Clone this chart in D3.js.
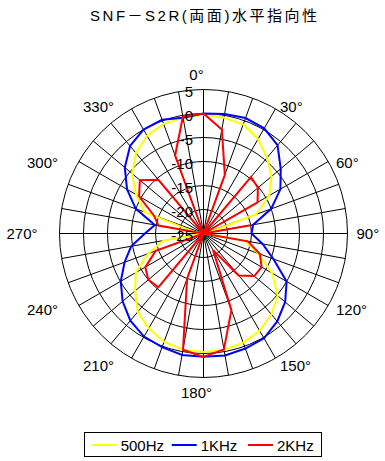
<!DOCTYPE html>
<html lang="ja">
<head>
<meta charset="utf-8">
<title>SNF-S2R 水平指向性</title>
<script src="https://cdn.jsdelivr.net/npm/d3@7"></script>
<style>
  body { margin: 0; background: #fff; }
  svg { display: block; }
  .lbl { font: 15px "Liberation Sans", Arial, sans-serif; fill: #000; }
  .title { font: 15px "Liberation Sans", "Noto Sans CJK JP", sans-serif; fill: #000; }
</style>
</head>
<body>
<div id="chart"></div>
<script>
// angles (deg, clockwise from top)
var angles = [0,10,20,30,40,50,60,70,80,90,100,110,120,130,140,150,160,170,
              180,190,200,210,220,230,240,250,260,270,280,290,300,310,320,330,340,350];

// level in dB, read at each angle
var hz500 = [-0.2,-0.5,-0.8,-2.3,-4.4,-6.5,-9.2,-13.3,-24,-25,-16.3,-12.9,-8.5,-4.8,-3,-1.6,-0.8,-0.4,
             -0.3,-0.4,-1,-2.2,-3.7,-6.4,-8.7,-12.8,-16.5,-25,-23,-11.9,-8.8,-5.6,-3.1,-1.5,-0.7,-0.5];
var khz1 = [0,0.3,0.6,0.3,-1,-4,-6.5,-10,-14.5,-15,-12.5,-9.5,-5,-2.8,-1.1,0.2,0.5,0.8,
            0.7,0.7,0.2,-0.2,-1.3,-3,-5.1,-7.5,-9.7,-12.8,-14.7,-10,-6.6,-3.6,-1.2,0,0.2,-0.5];
var khz2 = [0,-3,-12,-25,-9.6,-10.2,-12,-25,-15,-25,-15.6,-12.5,-11,-11.2,-13.6,-21,-8,-0.5,
            0.7,-0.4,-15,-25,-10.4,-10,-11,-14.4,-25,-25,-15.5,-14,-9.5,-7.7,-10.4,-25,-7.7,-0.3];

var rings = [5, 0, -5, -10, -15, -20, -25];
var angleTicks = [0,30,60,90,120,150,180,210,240,270,300,330];
var seriesNames = ["500Hz", "1KHz", "2KHz"];
var seriesColors = ["#ffff00", "#0000ff", "#ff0000"];

var width = 385, height = 461;
var cx = 203.5, cy = 233.5, R = 144;

var svg = d3.select("#chart").append("svg")
  .attr("width", width)
  .attr("height", height);

svg.append("rect").attr("width", width).attr("height", height).attr("fill", "#fff");

// title
svg.append("text")
  .attr("class", "title")
  .attr("x", 90)
  .attr("y", 20.5)
  .attr("textLength", 227)
  .attr("lengthAdjust", "spacing")
  .text("SNF－S2R(両面)水平指向性");

var r = d3.scaleLinear().domain([-25, 5]).range([0, R]).clamp(true);
var rad = function(d) { return d * Math.PI / 180; };

var g = svg.append("g").attr("transform", "translate(" + cx + "," + cy + ")");

// rings
g.selectAll("circle.ring")
  .data(rings.filter(function(d) { return d > -25; }))
  .enter().append("circle")
  .attr("class", "ring")
  .attr("r", function(d) { return r(d); })
  .attr("fill", "none")
  .attr("stroke", "#000")
  .attr("stroke-width", 1);

// spokes every 10 deg
g.selectAll("line.spoke")
  .data(angles)
  .enter().append("line")
  .attr("class", "spoke")
  .attr("x1", 0).attr("y1", 0)
  .attr("x2", function(d) { return R * Math.sin(rad(d)); })
  .attr("y2", function(d) { return -R * Math.cos(rad(d)); })
  .attr("stroke", "#000")
  .attr("stroke-width", 1);

// data curves
var line = d3.lineRadial()
  .angle(function(d) { return rad(d[0]); })
  .radius(function(d) { return r(d[1]); })
  .curve(d3.curveLinearClosed);

[hz500, khz1, khz2].forEach(function(vals, i) {
  g.append("path")
    .datum(angles.map(function(a, j) { return [a, vals[j]]; }))
    .attr("d", line)
    .attr("fill", "none")
    .attr("stroke", seriesColors[i])
    .attr("stroke-width", 2)
    .attr("stroke-linejoin", "miter");
});

// ring labels along 0 deg
g.selectAll("text.ringlbl")
  .data(rings)
  .enter().append("text")
  .attr("class", "lbl")
  .attr("x", -10.5)
  .attr("y", function(d) { return -r(d) + 7.5; })
  .attr("text-anchor", "end")
  .text(function(d) { return d; });

// angle labels
var LR = 153;
g.selectAll("text.anglbl")
  .data(angleTicks)
  .enter().append("text")
  .attr("class", "lbl")
  .attr("text-anchor", function(d) {
    if (d === 0 || d === 180) return "middle";
    return d < 180 ? "start" : "end";
  })
  .attr("x", function(d) {
    if (d === 0 || d === 180) return -7;
    var x = LR * Math.sin(rad(d));
    return d < 180 ? x : x - 13;
  })
  .attr("y", function(d) {
    if (d === 0) return -153.5;
    if (d === 180) return 164.5;
    return -LR * Math.cos(rad(d)) + 5.5 + (d < 90 || d > 270 ? 5 : (d === 90 || d === 270 ? 0 : -1));
  })
  .text(function(d) { return d + "°"; });

// legend
var legend = svg.append("g");
legend.append("rect")
  .attr("x", 84.5).attr("y", 432.5)
  .attr("width", 237).attr("height", 24)
  .attr("fill", "#fff").attr("stroke", "#000").attr("stroke-width", 1);

var legX = [91.7, 171.7, 248];
seriesNames.forEach(function(name, i) {
  legend.append("line")
    .attr("x1", legX[i]).attr("x2", legX[i] + 25)
    .attr("y1", 445).attr("y2", 445)
    .attr("stroke", seriesColors[i]).attr("stroke-width", 2);
  legend.append("text")
    .attr("class", "lbl")
    .attr("x", legX[i] + 29)
    .attr("y", 450.5)
    .text(name);
});
</script>
</body>
</html>
